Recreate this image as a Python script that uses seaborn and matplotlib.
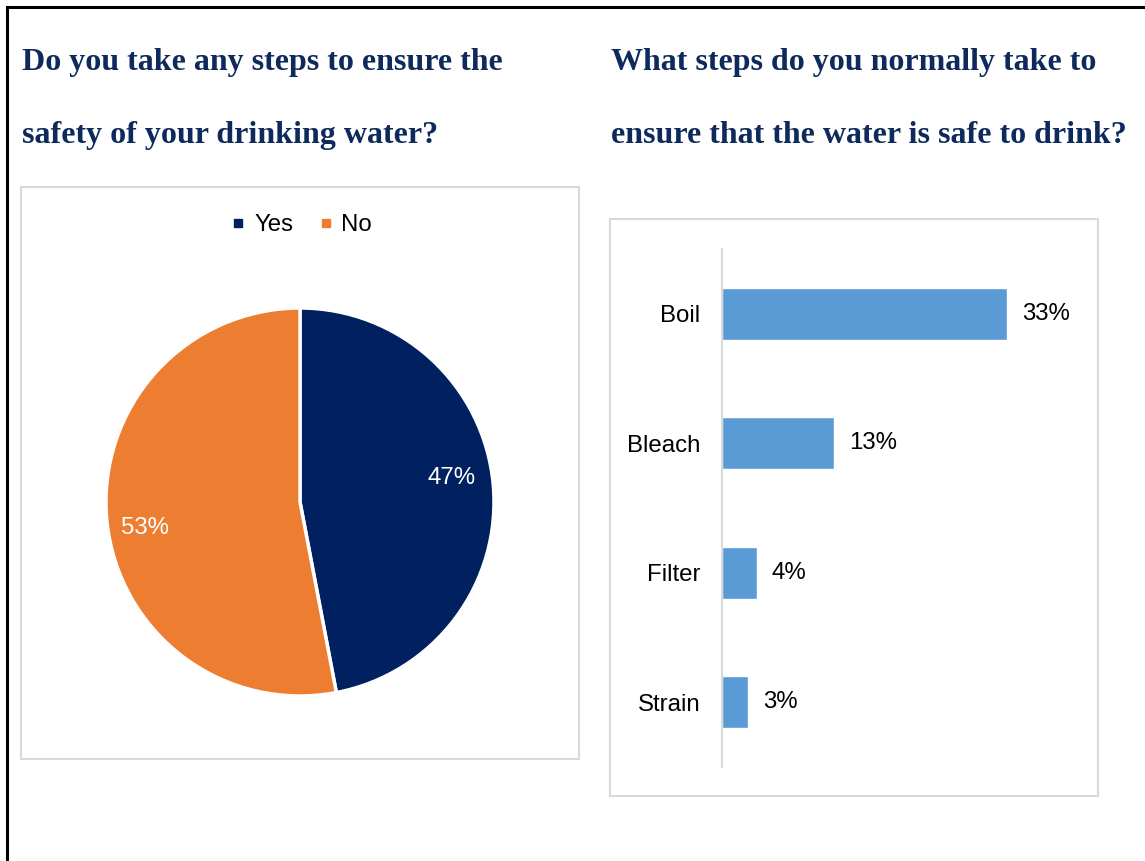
import matplotlib
matplotlib.use("Agg")
import matplotlib.pyplot as plt
from matplotlib.patches import Rectangle
from matplotlib.lines import Line2D
import seaborn as sns
import pandas as pd

# Survey results
pie_labels = ["Yes", "No"]
pie_values = [47, 53]
step_names = ["Boil", "Bleach", "Filter", "Strain"]
step_values = [33, 13, 4, 3]

title_left = ["Do you take any steps to ensure the", "safety of your drinking water?"]
title_right = ["What steps do you normally take to", "ensure that the water is safe to drink?"]

NAVY = "#002060"
ORANGE = "#ED7D31"
BLUE = "#5B9BD5"
TITLE_COLOR = "#0E2A5C"
FRAME_GRAY = "#D9D9D9"
FS = 17.3

sns.set_theme(style="white")
plt.rcParams["font.family"] = ["Liberation Sans", "DejaVu Sans"]

W, H = 1145, 861
fig = plt.figure(figsize=(W / 100, H / 100), dpi=100)
fig.patch.set_facecolor("white")


def px_rect(x0, y0, x1, y1):
    return [x0 / W, 1 - y1 / H, (x1 - x0) / W, (y1 - y0) / H]


def frame(x0, y0, x1, y1, color, lw):
    fig.patches.append(Rectangle((x0 / W, 1 - y1 / H), (x1 - x0) / W, (y1 - y0) / H,
                                 transform=fig.transFigure, fill=False,
                                 edgecolor=color, linewidth=lw, zorder=0))


# Page border and the two chart frames
frame(7, 7, 1160, 880, "black", 2.2)
frame(21, 187, 579, 759, FRAME_GRAY, 1.5)
frame(610, 219, 1098, 796, FRAME_GRAY, 1.5)

# Titles, one text per line
for x, lines in [(22, title_left), (611, title_right)]:
    for base_y, line in zip((70, 143), lines):
        fig.text(x / W, 1 - base_y / H, line, ha="left", va="baseline",
                 family="Liberation Serif", fontweight="bold", fontsize=23,
                 color=TITLE_COLOR)

# Pie chart
cx, cy, r = 300, 502, 194
pad = 1.1
ax_pie = fig.add_axes(px_rect(cx - r * pad, cy - r * pad, cx + r * pad, cy + r * pad))
wedges, texts, autotexts = ax_pie.pie(
    pie_values, colors=[NAVY, ORANGE], startangle=90, counterclock=False,
    autopct=lambda p: f"{p:.0f}%", pctdistance=0.8,
    wedgeprops=dict(edgecolor="white", linewidth=2.5),
    textprops=dict(color="white", fontsize=FS))
# data labels sit a little off the wedge bisectors
autotexts[0].set_position((0.78, 0.125))
autotexts[1].set_position((-0.80, -0.135))
ax_pie.set_xlim(-pad, pad)
ax_pie.set_ylim(-pad, pad)
ax_pie.set_aspect("equal")
ax_pie.axis("off")

handles = [Line2D([], [], marker="s", linestyle="", markersize=5.5,
                  markerfacecolor=c, markeredgecolor=c) for c in (NAVY, ORANGE)]
fig.legend(handles, pie_labels, loc="center", bbox_to_anchor=(301 / W, 1 - 225 / H),
           ncol=2, frameon=False, fontsize=FS, handletextpad=0.3,
           columnspacing=1.0, handlelength=0.7, labelcolor="black")

# Bar chart
x_axis, x_right = 722, 1080
px_per_unit = (1007 - 722) / 33
ax_bar = fig.add_axes(px_rect(x_axis, 249, x_right, 767))
df = pd.DataFrame({"step": step_names, "pct": step_values})
sns.barplot(data=df, x="pct", y="step", orient="h", color=BLUE, width=0.4,
            saturation=1, ax=ax_bar)
ax_bar.set_xlim(0, (x_right - x_axis) / px_per_unit)
ax_bar.set_ylim(3.5, -0.5)
ax_bar.set_xlabel("")
ax_bar.set_ylabel("")
ax_bar.set_xticks([])
ax_bar.tick_params(axis="y", length=0, pad=15.5, labelsize=FS, labelcolor="black")
for side in ("top", "right", "bottom"):
    ax_bar.spines[side].set_visible(False)
ax_bar.spines["left"].set_color(FRAME_GRAY)
ax_bar.spines["left"].set_linewidth(1.5)
ax_bar.patch.set_alpha(0)
for cont in ax_bar.containers:
    ax_bar.bar_label(cont, labels=[f"{v}%" for v in step_values], padding=11,
                     fontsize=FS, color="black")

fig.savefig("out.png", dpi=100, facecolor="white")
